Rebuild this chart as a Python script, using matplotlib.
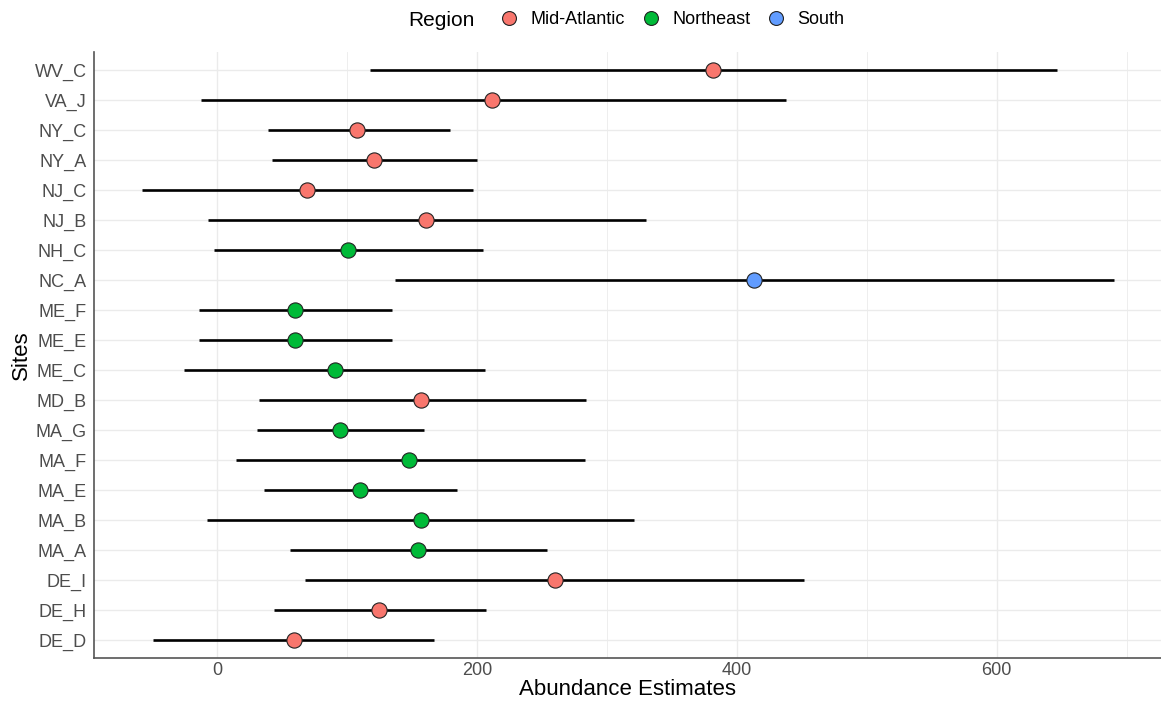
import matplotlib.pyplot as plt
from matplotlib.lines import Line2D
import numpy as np

plt.rcParams['font.family'] = ['Liberation Sans', 'DejaVu Sans']

# sites listed bottom to top
sites = ['DE_D', 'DE_H', 'DE_I', 'MA_A', 'MA_B', 'MA_E', 'MA_F', 'MA_G', 'MD_B', 'ME_C',
         'ME_E', 'ME_F', 'NC_A', 'NH_C', 'NJ_B', 'NJ_C', 'NY_A', 'NY_C', 'VA_J', 'WV_C']
region = ['Mid-Atlantic', 'Mid-Atlantic', 'Mid-Atlantic', 'Northeast', 'Northeast', 'Northeast',
          'Northeast', 'Northeast', 'Mid-Atlantic', 'Northeast', 'Northeast', 'Northeast',
          'South', 'Northeast', 'Mid-Atlantic', 'Mid-Atlantic', 'Mid-Atlantic', 'Mid-Atlantic',
          'Mid-Atlantic', 'Mid-Atlantic']
estimate = [59, 125, 260, 155, 157, 110, 148, 95, 157, 91,
            60, 60, 413, 101, 161, 69, 121, 108, 212, 382]
lower = [-49, 44, 68, 56, -8, 36, 15, 31, 32, -25,
         -14, -14, 137, -2, -7, -58, 42, 39, -12, 118]
upper = [167, 207, 452, 254, 321, 185, 283, 159, 284, 206,
         135, 135, 690, 205, 330, 197, 200, 179, 438, 646]

colors = {'Mid-Atlantic': '#F8766D', 'Northeast': '#00BA38', 'South': '#619CFF'}

fig = plt.figure(figsize=(11.61, 7.07), dpi=100)
ax = fig.add_axes([93.5 / 1161, 49 / 707, (1161 - 93.5) / 1161, 606 / 707])

y = np.arange(len(sites))
ax.hlines(y, lower, upper, color='black', lw=1.9, zorder=3)
for i in range(len(sites)):
    ax.scatter(estimate[i], y[i], s=120, color=colors[region[i]],
               edgecolor='#222222', linewidth=0.8, zorder=4)

ax.set_xlim(-95, 726.4)
ax.set_ylim(-0.6, len(sites) - 0.4)
ax.set_yticks(y)
ax.set_yticklabels(sites)
ax.set_xticks([0, 200, 400, 600])
ax.set_xticks([100, 300, 500, 700], minor=True)

ax.grid(True, which='major', color='#EBEBEB', lw=1.0, zorder=0)
ax.grid(True, which='minor', axis='x', color='#EBEBEB', lw=0.6, zorder=0)
ax.set_axisbelow(True)

for s in ['top', 'right']:
    ax.spines[s].set_visible(False)
for s in ['left', 'bottom']:
    ax.spines[s].set_color('#555555')
    ax.spines[s].set_linewidth(1.2)

ax.tick_params(axis='both', which='both', length=0, labelsize=13, labelcolor='#4D4D4D')
ax.tick_params(axis='y', pad=5)
ax.tick_params(axis='x', pad=3)

ax.set_xlabel('Abundance Estimates', fontsize=16, labelpad=0)
ax.set_ylabel('Sites', fontsize=16, labelpad=2)

handles = [Line2D([], [], marker='o', ls='', markersize=10, markerfacecolor=colors[k],
                  markeredgecolor='#222222', markeredgewidth=0.8) for k in colors]
fig.text(441 / 1161, 1 - 20 / 707, 'Region', fontsize=15, ha='center', va='center')
fig.legend(handles, list(colors.keys()), loc='center', bbox_to_anchor=(670 / 1161, 1 - 20 / 707),
           ncol=3, frameon=False, fontsize=13, handletextpad=0.45, columnspacing=0.65,
           handlelength=1.5)

fig.savefig('out.png', dpi=100)
